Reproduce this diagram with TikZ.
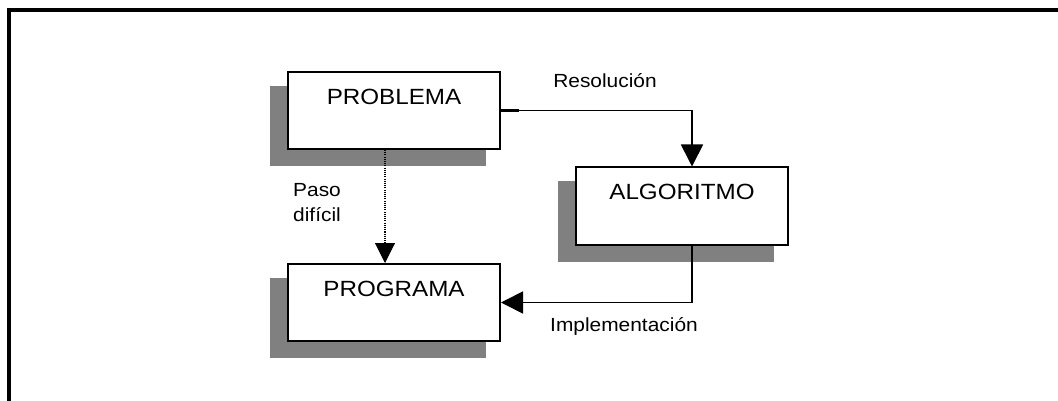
\documentclass[tikz,border=0pt]{standalone}
\usepackage{fontspec}
\setmainfont{Liberation Sans}[FakeStretch=1.1]
\usetikzlibrary{arrows.meta,backgrounds}
\definecolor{shadowgray}{HTML}{808080}
\tikzset{
  flowbox/.style={draw=black, line width=2pt, fill=white, minimum width=212pt,
    inner xsep=0pt, inner ysep=0pt, text height=32.5pt, text depth=44.5pt,
    font=\fontsize{22}{26}\selectfont},
  lbl/.style={font=\fontsize{19}{25}\selectfont, inner sep=0pt},
  conn/.style={line width=1.7pt, -{Triangle[width=22pt,length=22pt]}},
  dotconn/.style={line width=1.1pt, dash pattern=on 1.1pt off 1.1pt,
    -{Triangle[width=20pt,length=20pt]}},
  boxshadow/.style={fill=shadowgray}
}
\begin{document}
\begin{tikzpicture}[x=1pt,y=-1pt]
\useasboundingbox (0,0) rectangle (1058,401);
% frame
\draw[line width=4pt] (9,401) -- (9,10) -- (1058,10);
% boxes
\node[flowbox] (prob) at (394,110.5) {PROBLEMA};
\node[flowbox] (algo) at (682,206) {ALGORITMO};
\node[flowbox] (prog) at (394,302.5) {PROGRAMA};
% shadows
\begin{scope}[on background layer]
  \fill[boxshadow] ([shift={(-17,16)}]prob.south west) rectangle ([shift={(-15,15)}]prob.north east);
  \fill[boxshadow] ([shift={(-17,16)}]algo.south west) rectangle ([shift={(-15,15)}]algo.north east);
  \fill[boxshadow] ([shift={(-17,16)}]prog.south west) rectangle ([shift={(-15,15)}]prog.north east);
\end{scope}
% connectors
\draw[line width=2.6pt] (prob.east) -- ++(18,0);
\draw[conn] (prob.east) -| ([xshift=10pt]algo.north);
\draw[conn] ([xshift=10pt]algo.south) |- (prog.east);
\draw[dotconn] ([xshift=-9pt]prob.south) -- ([xshift=-9pt]prog.north);
% labels
\node[lbl, anchor=base] (lres) at (605,88) {Resolución};
\node[lbl, anchor=base] (limp) at (624,331) {Implementación};
\node[lbl, anchor=base west, align=left] (lpaso) at (293,222) {Paso\\difícil};
\end{tikzpicture}
\end{document}
